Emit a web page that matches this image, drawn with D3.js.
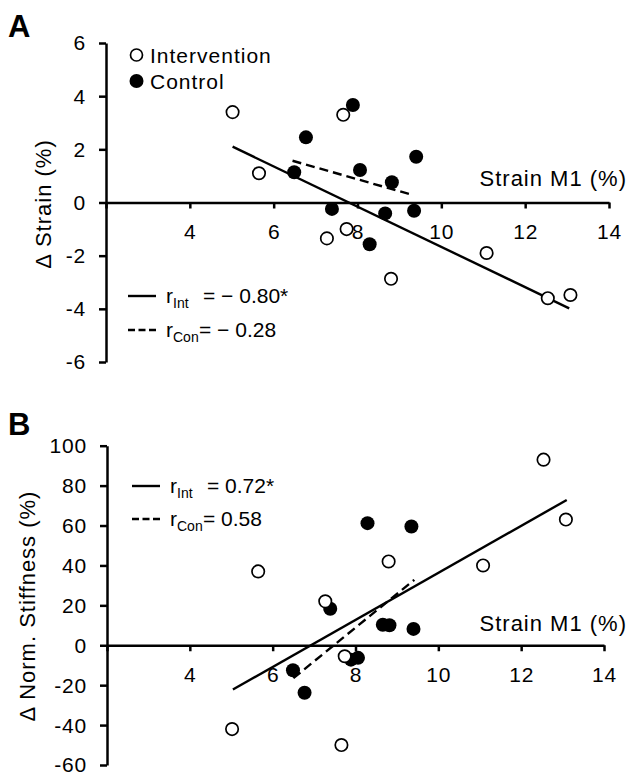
<!DOCTYPE html>
<html>
<head>
<meta charset="utf-8">
<script src="https://cdn.jsdelivr.net/npm/d3@7"></script>
<style>
  body { margin: 0; background: #fff; }
  text { font-family: "Liberation Sans", Arial, sans-serif; fill: #000; }
</style>
</head>
<body>
<div id="container"></div>
<script>
// strain at M1 (%) - same people in both panels
const strainM1Int = [5.02, 5.65, 7.27, 7.66, 7.74, 8.8, 11.08, 12.54, 13.08];
const strainM1Con = [6.49, 6.77, 7.39, 7.89, 8.06, 8.29, 8.66, 8.82, 9.35, 9.4];

// panel A: change in strain (%)
const dStrainInt = [3.4, 1.1, -1.35, 3.3, -1.0, -2.87, -1.9, -3.6, -3.48];
const dStrainCon = [1.14, 2.45, -0.24, 3.67, 1.22, -1.57, -0.41, 0.76, -0.31, 1.72];

// panel B: change in normalised stiffness (%)
const dStiffInt = [-42, 37, 22, -50, -5.5, 42, 40, 93, 63];
const dStiffCon = [-12.5, -23.8, 18.3, -7.2, -6.3, 61.2, 10.3, 10, 59.5, 8.2];

// regression lines (end points)
const fitStrainInt = [[5.02, 2.1], [13.05, -3.98]];
const fitStrainCon = [[6.45, 1.57], [9.32, 0.28]];
const fitStiffInt = [[5.04, -22.2], [13.1, 72.8]];
const fitStiffCon = [[6.5, -16.5], [9.42, 32.8]];

const xTicks = [2, 4, 6, 8, 10, 12, 14];
const strainTicks = [-6, -4, -2, 0, 2, 4, 6];
const stiffTicks = [-60, -40, -20, 0, 20, 40, 60, 80, 100];

const groupNames = ["Intervention", "Control"];
const corrA = ["\u2212 0.80*", "\u2212 0.28"];
const corrB = ["0.72*", "0.58"];

const svg = d3.select("#container").append("svg")
    .attr("width", 630)
    .attr("height", 775);

function drawPanel(p) {
    const x = d3.scaleLinear().domain([2, 14]).range(p.xRange);
    const y = d3.scaleLinear().domain(p.yDomain).range(p.yRange);
    const g = svg.append("g");

    // x axis sits on y = 0
    const xAxis = g.append("g")
        .attr("transform", `translate(0, ${y(0)})`)
        .call(d3.axisBottom(x).tickValues(xTicks).tickSize(6).tickSizeOuter(0).tickPadding(16)
            .tickFormat(d => d === 2 ? "" : String(d)));

    const yAxis = g.append("g")
        .attr("transform", `translate(${p.xRange[0]}, 0)`)
        .call(d3.axisLeft(y).tickValues(p.yTicks).tickSize(7).tickSizeOuter(0).tickPadding(13)
            .tickFormat(d => String(d)));

    [xAxis, yAxis].forEach(a => {
        a.attr("font-family", null).attr("font-size", null);
        a.select(".domain").attr("stroke", "#000").attr("stroke-width", 2.5);
        a.selectAll(".tick line").attr("stroke", "#000").attr("stroke-width", 2.5);
        a.selectAll(".tick text").attr("font-size", "21px").style("letter-spacing", "0.8px");
    });
    yAxis.selectAll(".tick text").attr("dy", "0.33em");

    // axis titles
    g.append("text")
        .attr("x", p.xTitleEnd)
        .attr("y", y(0) - p.xTitleUp)
        .attr("text-anchor", "end")
        .attr("font-size", "22px")
        .style("letter-spacing", "1px")
        .text("Strain M1 (%)");

    g.append("text")
        .attr("transform", `translate(${p.yTitleX}, ${p.yTitleMid}) rotate(-90)`)
        .attr("text-anchor", "middle")
        .attr("font-size", "22px")
        .style("letter-spacing", "1px")
        .text(p.yTitle);

    // panel letter
    g.append("text")
        .attr("x", 8)
        .attr("y", p.letterY)
        .attr("font-size", "31px")
        .attr("font-weight", "bold")
        .text(p.letter);

    // regression lines
    const line = d3.line().x(d => x(d[0])).y(d => y(d[1]));
    g.append("path").datum(p.fitInt)
        .attr("d", line).attr("fill", "none").attr("stroke", "#000").attr("stroke-width", 2.4);
    g.append("path").datum(p.fitCon)
        .attr("d", line).attr("fill", "none").attr("stroke", "#000").attr("stroke-width", 2.4)
        .attr("stroke-dasharray", "9,5");

    // points
    g.append("g").selectAll("circle")
        .data(d3.zip(strainM1Con, p.con))
        .join("circle")
        .attr("cx", d => x(d[0]))
        .attr("cy", d => y(d[1]))
        .attr("r", 7)
        .attr("fill", "#000");

    g.append("g").selectAll("circle")
        .data(d3.zip(strainM1Int, p.int))
        .join("circle")
        .attr("cx", d => x(d[0]))
        .attr("cy", d => y(d[1]))
        .attr("r", 6.2)
        .attr("fill", "#fff")
        .attr("stroke", "#000")
        .attr("stroke-width", 1.7);

    // r legend
    const subs = ["Int", "Con"];
    p.corr.forEach((c, i) => {
        const ly = p.legY[i];
        g.append("line")
            .attr("x1", p.legX).attr("x2", p.legX + 28)
            .attr("y1", ly).attr("y2", ly)
            .attr("stroke", "#000").attr("stroke-width", 2.4)
            .attr("stroke-dasharray", i === 1 ? "7,3.5" : null);
        const t = g.append("text")
            .attr("x", p.legX + 38)
            .attr("y", ly + 7)
            .attr("font-size", "21px");
        t.append("tspan").text("r");
        t.append("tspan").attr("font-size", "14px").attr("dy", 5).text(subs[i]);
        t.append("tspan").attr("x", p.legX + (i === 0 ? 75 : 71)).attr("dy", -5).text("= " + c);
    });
}

drawPanel({
    letter: "A", letterY: 37,
    xRange: [106, 609], yDomain: [-6, 6], yRange: [362, 43], yTicks: strainTicks,
    yTitle: "\u0394 Strain (%)", yTitleX: 51, yTitleMid: 204, xTitleEnd: 627, xTitleUp: 16.5,
    int: dStrainInt, con: dStrainCon, fitInt: fitStrainInt, fitCon: fitStrainCon,
    corr: corrA, legX: 128, legY: [296, 330]
});

drawPanel({
    letter: "B", letterY: 435,
    xRange: [107, 604], yDomain: [-60, 100], yRange: [765, 445.7], yTicks: stiffTicks,
    yTitle: "\u0394 Norm. Stiffness (%)", yTitleX: 35, yTitleMid: 606, xTitleEnd: 627, xTitleUp: 14,
    int: dStiffInt, con: dStiffCon, fitInt: fitStiffInt, fitCon: fitStiffCon,
    corr: corrB, legX: 132, legY: [486, 519]
});

// group legend (panel A only)
const legend = svg.append("g");
groupNames.forEach((name, i) => {
    const cy = 55 + i * 26;
    legend.append("circle")
        .attr("cx", 136.5).attr("cy", cy)
        .attr("r", i === 0 ? 6 : 7)
        .attr("fill", i === 0 ? "#fff" : "#000")
        .attr("stroke", "#000").attr("stroke-width", i === 0 ? 1.7 : 0);
    legend.append("text")
        .attr("x", 150).attr("y", cy + 8)
        .attr("font-size", "21px")
        .style("letter-spacing", "1px")
        .text(name);
});
</script>
</body>
</html>
